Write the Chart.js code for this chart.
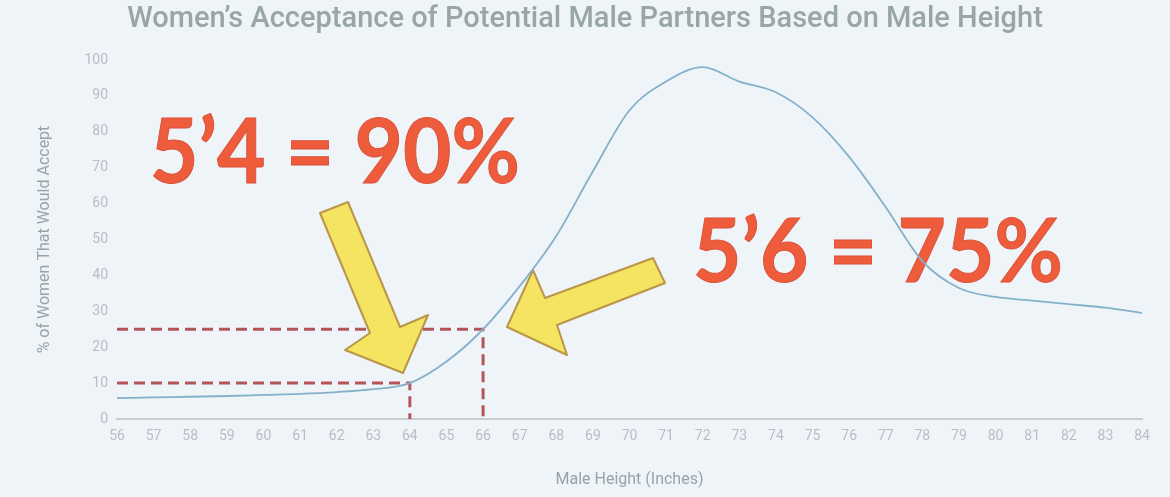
<!DOCTYPE html>
<html>
<head>
<meta charset="utf-8">
<script src="https://cdn.jsdelivr.net/npm/chart.js@4.4.1/dist/chart.umd.min.js"></script>
<style>
  html, body { margin: 0; padding: 0; background: #eff4f9; }
  #wrap { width: 1170px; height: 497px; }
</style>
</head>
<body>
<div id="wrap"><canvas id="c" width="1170" height="497"></canvas></div>
<script>
// ---- data ----
const heights = [56,57,58,59,60,61,62,63,64,65,66,67,68,69,70,71,72,73,74,75,76,77,78,79,80,81,82,83,84];
const acceptance = [5.8,6,6.2,6.4,6.7,7,7.5,8.3,10,16,25,37,51,69,86,94,98,94,91,84,73,59,44,36.5,34,33,32,31,29.5];
const yTicks = [0,10,20,30,40,50,60,70,80,90,100];
const marker54 = { height: 64, pct: 10 };
const marker56 = { height: 66, pct: 25 };
const label54 = "5\u20194 = 90%";
const label56 = "5\u20196 = 75%";
const chartTitle = "Women\u2019s Acceptance of Potential Male Partners Based on Male Height";
const yTitle = "% of Women That Would Accept";
const xTitle = "Male Height (Inches)";

const curve = heights.map((h, i) => ({ x: h, y: acceptance[i] }));
function guide(m) {
  return [{ x: heights[0], y: m.pct }, { x: m.height, y: m.pct }, { x: m.height, y: 0 }];
}

const bgPlugin = {
  id: 'bg',
  beforeDraw(chart) {
    const ctx = chart.ctx;
    ctx.save();
    ctx.fillStyle = '#eff4f9';
    ctx.fillRect(0, 0, chart.width, chart.height);
    ctx.restore();
  }
};

function drawArrow(ctx, pts) {
  ctx.save();
  ctx.beginPath();
  ctx.moveTo(pts[0][0], pts[0][1]);
  for (let i = 1; i < pts.length; i++) ctx.lineTo(pts[i][0], pts[i][1]);
  ctx.closePath();
  ctx.fillStyle = '#f4e461';
  ctx.fill();
  ctx.lineWidth = 2;
  ctx.strokeStyle = '#b9964a';
  ctx.lineJoin = 'round';
  ctx.stroke();
  ctx.restore();
}

function drawFitText(ctx, text, left, right, baseline, capH) {
  ctx.save();
  const size = capH / 0.72;
  ctx.font = 'bold ' + size + 'px Lato, "DejaVu Sans", sans-serif';
  ctx.textBaseline = 'alphabetic';
  ctx.textAlign = 'left';
  const w = ctx.measureText(text).width;
  const sx = (right - left) / w;
  ctx.translate(left, baseline);
  ctx.scale(sx, 1);
  ctx.fillStyle = '#ef5c3b';
  ctx.strokeStyle = '#d9523a';
  ctx.lineWidth = 1;
  ctx.fillText(text, 0, 0);
  ctx.strokeText(text, 0, 0);
  ctx.restore();
}

const overlayPlugin = {
  id: 'overlay',
  beforeDatasetDraw(chart, args) {
    if (args.index !== 0) return;
    const ctx = chart.ctx;
    drawArrow(ctx, [[320,213],[348,202],[400,327],[428,315],[403,373],[345,350],[370,333]]);
    drawArrow(ctx, [[653,258],[665,283],[557,325],[567,355],[507,327],[533,270],[545,298]]);
    drawFitText(ctx, label54, 150, 520, 183, 65);
    drawFitText(ctx, label56, 693, 1063, 282, 64);
  }
};

const dashStyle = {
  borderColor: '#b2565c',
  borderWidth: 3,
  borderDash: [11, 6],
  pointRadius: 0,
  fill: false,
  tension: 0,
  order: 2
};

const tickFont = { family: 'Roboto, sans-serif', size: 14 };
const axisTitleFont = { family: 'Roboto, sans-serif', size: 16 };

new Chart(document.getElementById('c'), {
  type: 'line',
  data: {
    datasets: [
      {
        data: curve,
        borderColor: '#84b1c9',
        borderWidth: 1.8,
        pointRadius: 0,
        fill: false,
        cubicInterpolationMode: 'monotone',
        order: 1
      },
      Object.assign({ data: guide(marker54) }, dashStyle),
      Object.assign({ data: guide(marker56) }, dashStyle)
    ]
  },
  options: {
    responsive: false,
    animation: false,
    devicePixelRatio: 1,
    layout: { padding: 0 },
    plugins: {
      legend: { display: false },
      tooltip: { enabled: false },
      title: {
        display: true,
        text: chartTitle,
        color: '#98a6a5',
        font: { family: 'Roboto, "Liberation Sans", sans-serif', size: 29, weight: '500' },
        padding: { top: 2, bottom: 23.2 }
      }
    },
    scales: {
      x: {
        type: 'linear',
        min: heights[0],
        max: heights[heights.length - 1],
        afterFit(scale) { scale.height = 78; },
        afterBuildTicks(scale) { scale.ticks = heights.map(v => ({ value: v })); },
        grid: { display: false, drawTicks: false },
        border: { display: true, color: '#c9ccd0', width: 2 },
        ticks: {
          color: '#b8bec4',
          font: tickFont,
          padding: 9,
          maxRotation: 0,
          autoSkip: false
        },
        title: {
          display: true,
          text: xTitle,
          color: '#9aa3a8',
          font: axisTitleFont,
          padding: { top: 0, bottom: 7 }
        }
      },
      y: {
        min: yTicks[0],
        max: yTicks[yTicks.length - 1],
        afterFit(scale) { scale.width = 117; },
        afterBuildTicks(scale) { scale.ticks = yTicks.map(v => ({ value: v })); },
        grid: { display: false, drawTicks: false },
        border: { display: false },
        ticks: {
          color: '#b8bec4',
          font: tickFont,
          padding: 9
        },
        title: {
          display: true,
          text: yTitle,
          color: '#9aa3a8',
          font: axisTitleFont,
          padding: { top: 35, bottom: 0 }
        }
      },
      yRight: {
        position: 'right',
        min: 0,
        max: 100,
        afterFit(scale) { scale.width = 28; },
        grid: { display: false, drawTicks: false },
        border: { display: false },
        ticks: { display: false }
      }
    }
  },
  plugins: [bgPlugin, overlayPlugin]
});
</script>
</body>
</html>
